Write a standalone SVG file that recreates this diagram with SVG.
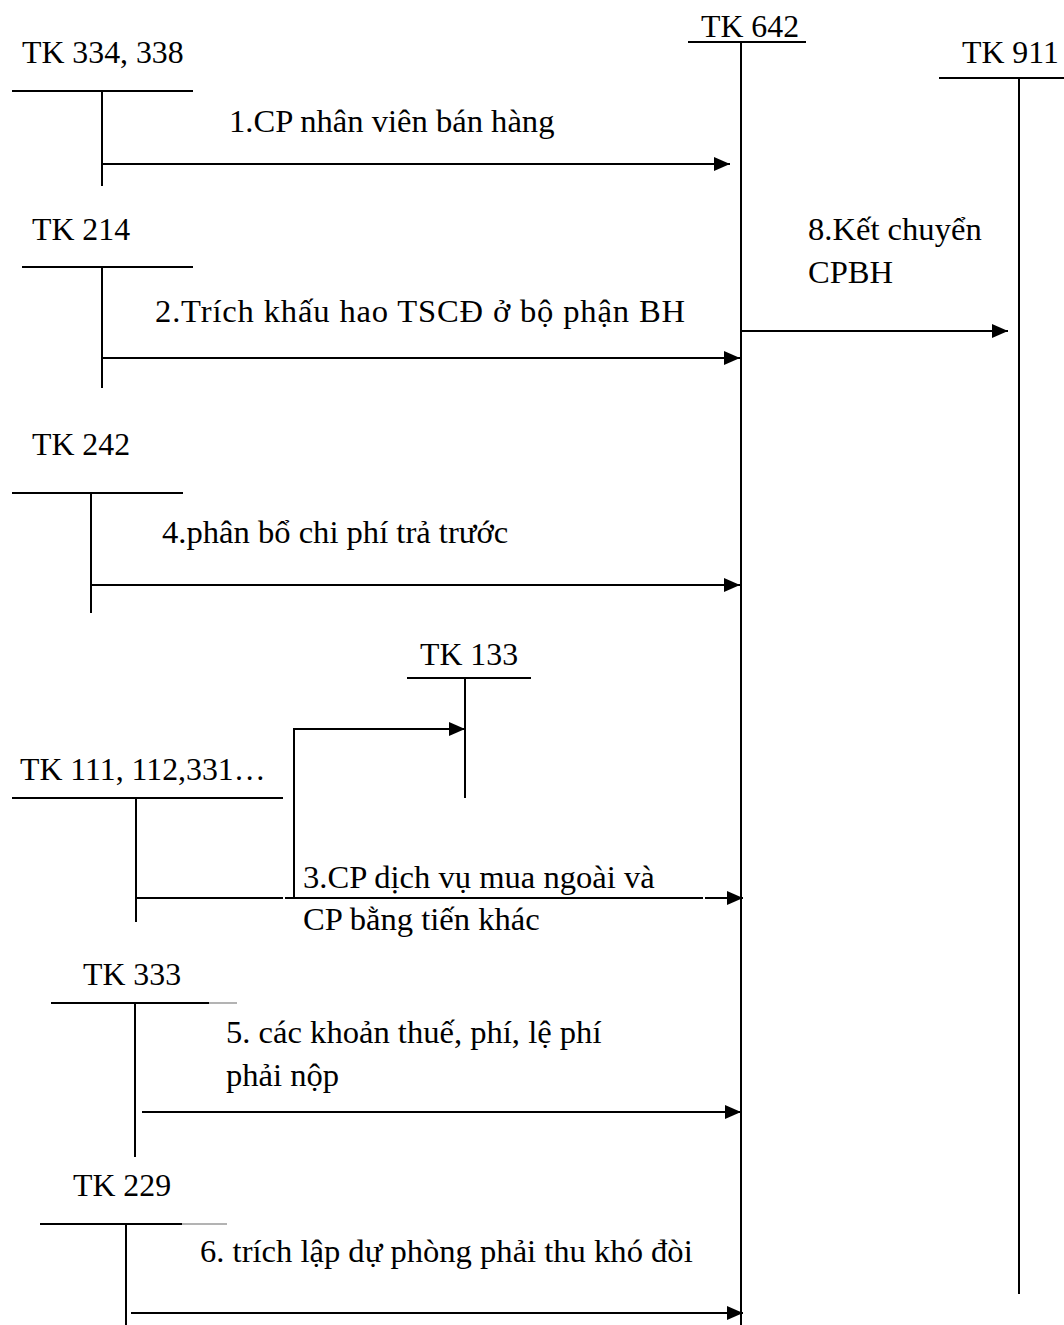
<svg xmlns="http://www.w3.org/2000/svg" width="1064" height="1325" viewBox="0 0 1064 1325">
<style>
text{font-family:"Liberation Serif","Times New Roman",serif;font-size:31.8px;fill:#000}
.lb{font-size:32.6px}
.ln{stroke:#000;stroke-width:2;fill:none}
.lt{stroke:#9a9a9a;stroke-width:1.5;fill:none}
.ar{stroke:#000;stroke-width:2;fill:none;marker-end:url(#ah)}
</style>
<defs>
<marker id="ah" markerUnits="userSpaceOnUse" markerWidth="16" markerHeight="16" viewBox="0 0 16 16" refX="16" refY="8" orient="auto">
<path d="M0,1 L16,8 L0,15 z" fill="#000"/>
</marker>
</defs>
<rect width="1064" height="1325" fill="#fff"/>
<g id="tk642">
<text x="701" y="37">TK 642</text>
<line class="ln" x1="688" y1="42" x2="806" y2="42"/>
<line class="ln" x1="741" y1="42" x2="741" y2="1325"/>
</g>
<g id="tk911">
<text x="962" y="63">TK 911</text>
<line class="ln" x1="939" y1="78" x2="1064" y2="78"/>
<line class="ln" x1="1019" y1="78" x2="1019" y2="1294"/>
</g>
<g id="tk334">
<text x="22" y="63">TK 334, 338</text>
<line class="ln" x1="12" y1="91" x2="193" y2="91"/>
<line class="ln" x1="102" y1="91" x2="102" y2="186"/>
</g>
<g id="tk214">
<text x="32" y="240">TK 214</text>
<line class="ln" x1="22" y1="267" x2="193" y2="267"/>
<line class="ln" x1="102" y1="267" x2="102" y2="388"/>
</g>
<g id="tk242">
<text x="32" y="455">TK 242</text>
<line class="ln" x1="12" y1="493" x2="183" y2="493"/>
<line class="ln" x1="91" y1="493" x2="91" y2="613"/>
</g>
<g id="tk133">
<text x="420" y="665">TK 133</text>
<line class="ln" x1="407" y1="678" x2="531" y2="678"/>
<line class="ln" x1="465" y1="678" x2="465" y2="798"/>
</g>
<g id="tk111">
<text x="20" y="780">TK 111, 112,331…</text>
<line class="ln" x1="12" y1="798" x2="283" y2="798"/>
<line class="ln" x1="136" y1="798" x2="136" y2="922"/>
</g>
<g id="tk333">
<text x="83" y="985">TK 333</text>
<line class="ln" x1="51" y1="1003" x2="209" y2="1003"/>
<line class="lt" x1="209" y1="1003" x2="237" y2="1003"/>
<line class="ln" x1="135" y1="1003" x2="135" y2="1157"/>
</g>
<g id="tk229">
<text x="73" y="1196">TK 229</text>
<line class="ln" x1="40" y1="1224" x2="182" y2="1224"/>
<line class="lt" x1="182" y1="1224" x2="227" y2="1224"/>
<line class="ln" x1="126" y1="1224" x2="126" y2="1325"/>
</g>
<g id="connectors">
<line class="ar" x1="102" y1="164" x2="730" y2="164"/>
<line class="ar" x1="102" y1="358" x2="740" y2="358"/>
<line class="ar" x1="91" y1="585" x2="740" y2="585"/>
<line class="ln" x1="136" y1="898" x2="283" y2="898"/>
<line class="ln" x1="285" y1="898" x2="703" y2="898"/>
<line class="ar" x1="705" y1="898" x2="743" y2="898"/>
<polyline class="ar" points="294,898 294,729 465,729"/>
<line class="ar" x1="142" y1="1112" x2="741" y2="1112"/>
<line class="ar" x1="131" y1="1313" x2="743" y2="1313"/>
<line class="ar" x1="741" y1="331" x2="1008" y2="331"/>
</g>
<g id="labels">
<text class="lb" x="229" y="132">1.CP nhân viên bán hàng</text>
<text class="lb" x="155" y="322" textLength="530" lengthAdjust="spacing">2.Trích khấu hao TSCĐ ở bộ phận BH</text>
<text class="lb" x="162" y="543">4.phân bổ chi phí trả trước</text>
<text class="lb" x="303" y="888">3.CP dịch vụ mua ngoài và</text>
<text class="lb" x="303" y="930">CP bằng tiến khác</text>
<text class="lb" x="226" y="1043">5. các khoản thuế, phí, lệ phí</text>
<text class="lb" x="226" y="1086">phải nộp</text>
<text class="lb" x="200" y="1262">6. trích lập dự phòng phải thu khó đòi</text>
<text class="lb" x="808" y="240">8.Kết chuyển</text>
<text class="lb" x="808" y="283">CPBH</text>
</g>
</svg>
